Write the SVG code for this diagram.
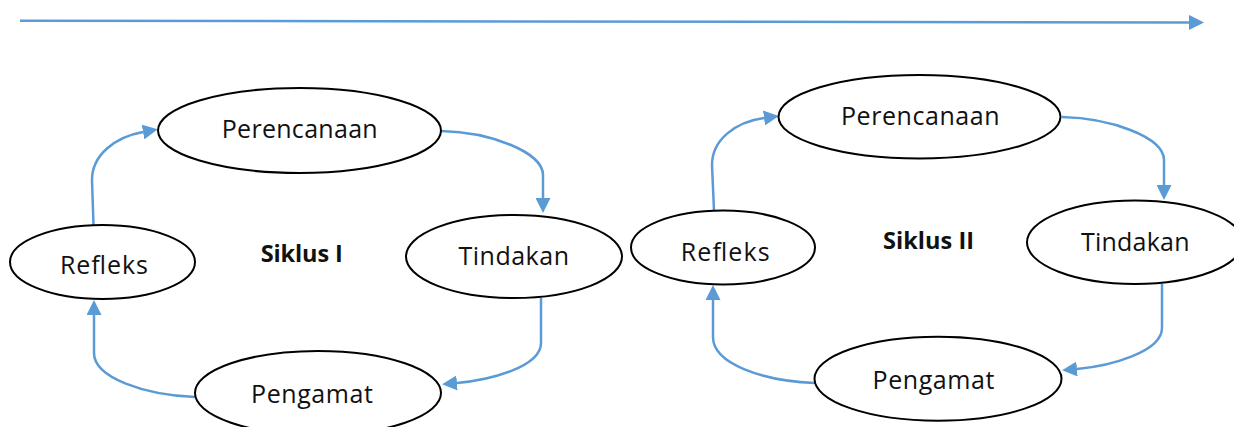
<svg xmlns="http://www.w3.org/2000/svg" width="1234" height="427" viewBox="0 0 1234 427">
<style>
.node{fill:#fff;stroke:#000;stroke-width:2}
.lbl{font-family:"Open Sans","Liberation Sans",sans-serif;font-size:25px;fill:#111}
.ttl{font-family:"Open Sans","Liberation Sans",sans-serif;font-size:23.5px;font-weight:bold;fill:#111}
.conn{fill:none;stroke:#5B9BD5;stroke-width:2.5;marker-end:url(#ah)}
</style>
<defs>
<marker id="ah" viewBox="0 0 15 15" refX="0" refY="7.5" markerWidth="15" markerHeight="15" markerUnits="userSpaceOnUse" orient="auto">
<path d="M0,0 L15,7.5 L0,15 z" fill="#5B9BD5"/>
</marker>
</defs>
<rect width="1234" height="427" fill="#fff"/>
<g id="connectors">
<path class="conn" d="M20,20.7 L1189,22.4"/>
<path class="conn" d="M93.5,225 L92,180 C92,155 115,137 143,132"/>
<path class="conn" d="M441,131 C490,132 543,152 543,175 L543,198"/>
<path class="conn" d="M541,298 L541,343 C541,367 490,380 457,383"/>
<path class="conn" d="M195,397 C145,395 94,378 94,353 L94,315"/>
<path class="conn" d="M714,211 L712,165 C712,140 735,122 764,118"/>
<path class="conn" d="M1062,117 C1110,118 1164,137 1164,160 L1164,185"/>
<path class="conn" d="M1162,284 L1162,328 C1162,352 1110,366 1077,369"/>
<path class="conn" d="M815,383 C763,381 713,364 713,337 L713,300"/>
</g>
<g id="perencanaan1"><ellipse class="node" cx="299.5" cy="130.5" rx="141.5" ry="42.5"/><text class="lbl" x="221.7" y="138" textLength="156">Perencanaan</text></g>
<g id="tindakan1"><ellipse class="node" cx="514" cy="256.5" rx="108" ry="41.5"/><text class="lbl" x="458.5" y="264.5" textLength="110.5">Tindakan</text></g>
<g id="refleks1"><ellipse class="node" cx="102.5" cy="262" rx="92.5" ry="37"/><text class="lbl" x="60" y="274" textLength="88">Refleks</text></g>
<g id="pengamat1"><ellipse class="node" cx="318" cy="393" rx="123" ry="42"/><text class="lbl" x="251" y="402.5" textLength="122">Pengamat</text></g>
<g id="siklus1"><text class="ttl" x="260.7" y="262" textLength="82">Siklus I</text></g>
<g id="perencanaan2"><ellipse class="node" cx="919.5" cy="116.7" rx="141" ry="41.7"/><text class="lbl" x="841" y="124.5" textLength="158.6">Perencanaan</text></g>
<g id="tindakan2"><ellipse class="node" cx="1135" cy="242.3" rx="108" ry="41.7"/><text class="lbl" x="1081" y="251" textLength="108.5">Tindakan</text></g>
<g id="refleks2"><ellipse class="node" cx="723" cy="247.5" rx="92" ry="37"/><text class="lbl" x="680.7" y="260.7" textLength="89">Refleks</text></g>
<g id="pengamat2"><ellipse class="node" cx="938" cy="378.7" rx="123.5" ry="42"/><text class="lbl" x="872.5" y="389" textLength="122">Pengamat</text></g>
<g id="siklus2"><text class="ttl" x="883" y="248.5" textLength="91">Siklus II</text></g>
</svg>
